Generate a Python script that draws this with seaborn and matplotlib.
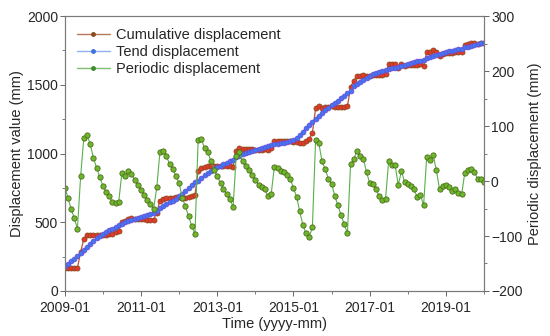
import numpy as np
import pandas as pd
import matplotlib
matplotlib.use("Agg")
import matplotlib.pyplot as plt
import matplotlib.dates as mdates
from matplotlib.ticker import MultipleLocator
from matplotlib.lines import Line2D
import seaborn as sns

# monthly series, 2009-01 .. 2020-01
start_month = "2009-01-01"
tick_years = [2009, 2011, 2013, 2015, 2017, 2019]

cumulative = [
    167, 167, 167, 167, 167,
    284, 378, 406, 409, 406, 407, 407, 406, 410, 415, 416, 426, 440,
    505, 509, 527, 530, 527, 525, 523, 521, 519, 520, 520, 571,
    658, 672, 675, 675, 680, 681, 684, 675, 680, 684, 690, 700,
    875, 898, 902, 913, 912, 910, 911, 909, 908, 909, 910, 905,
    1020, 1038, 1031, 1031, 1032, 1030, 1028, 1026, 1029, 1032, 1027, 1037,
    1091, 1094, 1092, 1094, 1094, 1094, 1087, 1086, 1080, 1080, 1090, 1108, 1149,
    1330, 1344, 1331, 1336, 1337, 1346, 1341, 1341, 1340, 1342, 1343,
    1486, 1528, 1563, 1567, 1575, 1566, 1561, 1573, 1573, 1569, 1569, 1577,
    1651, 1649, 1654, 1623, 1654, 1640, 1644, 1647, 1648, 1641, 1652, 1640,
    1736, 1738, 1755, 1736, 1709, 1722, 1730, 1732, 1730, 1738, 1736, 1739,
    1787, 1798, 1806, 1806, 1800, 1805, 1804,
]

trend = [
    180, 198, 218, 234, 254,
    275, 300, 322, 342, 364, 383, 400, 415, 430, 442, 454, 466, 478,
    490, 500, 509, 517, 525, 532, 539, 546, 554, 562, 571, 582,
    605, 617, 630, 644, 658, 672, 688, 706, 726, 748, 772, 796,
    800, 822, 842, 860, 876, 890, 902, 913, 923, 933, 943, 952,
    975, 985, 995, 1004, 1012, 1019, 1026, 1033, 1040, 1047, 1054, 1061,
    1066, 1070, 1074, 1078, 1083, 1090, 1100, 1115, 1135, 1160, 1185, 1210, 1233,
    1255, 1275, 1295, 1314, 1333, 1351, 1368, 1385, 1402, 1420, 1438,
    1455, 1488, 1508, 1522, 1535, 1550, 1565, 1578, 1588, 1596, 1604, 1610,
    1615, 1620, 1625, 1630, 1636, 1642, 1649, 1656, 1663, 1670, 1677, 1684,
    1692, 1700, 1708, 1716, 1724, 1731, 1737, 1743, 1748, 1753, 1758, 1763,
    1772, 1778, 1784, 1790, 1796, 1801, 1806,
]

periodic = [
    -13, -31, -51, -67, -87,
    9, 78, 84, 67, 42, 24, 7, -9, -20, -27, -38, -40, -38,
    15, 9, 18, 13, 2, -7, -16, -25, -35, -42, -51, -11,
    53, 55, 45, 31, 22, 9, -4, -31, -46, -64, -82, -96,
    75, 76, 60, 53, 36, 20, 9, -4, -15, -24, -33, -47,
    45, 53, 36, 27, 20, 11, 2, -7, -11, -15, -27, -24,
    25, 24, 18, 16, 11, 4, -13, -29, -55, -80, -95, -102, -84,
    75, 69, 36, 22, 4, -5, -27, -44, -62, -78, -95,
    31, 40, 55, 45, 40, 16, -4, -5, -15, -27, -35, -33,
    36, 29, 29, -7, 18, -2, -5, -9, -15, -29, -25, -44,
    44, 38, 47, 20, -15, -9, -7, -11, -18, -15, -22, -24,
    15, 20, 22, 16, 4, 4, -2,
]

dates = pd.date_range(start_month, periods=len(periodic), freq="MS")
df = pd.DataFrame({"date": dates, "cum": cumulative, "trend": trend, "per": periodic})

sns.set_style("ticks")
plt.rcParams["font.family"] = ["Liberation Sans", "DejaVu Sans"]

fig = plt.figure(figsize=(5.5, 3.36), dpi=100)
ax = fig.add_axes([0.118, 0.134, 0.762, 0.818])
ax2 = ax.twinx()

sns.lineplot(data=df, x="date", y="cum", ax=ax, color="#b4553a", lw=0.9,
             marker="o", markersize=3.6, markerfacecolor="#e8372c",
             markeredgecolor="#8a4a1c", markeredgewidth=0.6,
             label="Cumulative displacement", legend=False, zorder=2)
sns.lineplot(data=df, x="date", y="trend", ax=ax, color="#4a8cf0", lw=1.0,
             marker="o", markersize=3.4, markerfacecolor="#3f78f0",
             markeredgecolor="#6a4fd8", markeredgewidth=0.6,
             label="Tend displacement", legend=False, zorder=3)
sns.lineplot(data=df, x="date", y="per", ax=ax2, color="#58b04a", lw=0.8,
             marker="o", markersize=3.8, markerfacecolor="#6cb82c",
             markeredgecolor="#4f6a1a", markeredgewidth=0.6,
             label="Periodic displacement", legend=False)

ax.set_xlim(pd.Timestamp("2009-01-01"), pd.Timestamp("2020-01-01"))
ax.set_ylim(0, 2000)
ax2.set_ylim(-200, 300)

ax.set_xticks([pd.Timestamp(f"{y}-01-01") for y in tick_years])
ax.xaxis.set_minor_locator(mdates.YearLocator(1))
ax.xaxis.set_major_formatter(mdates.DateFormatter("%Y-%m"))
ax.yaxis.set_major_locator(MultipleLocator(500))
ax.yaxis.set_minor_locator(MultipleLocator(250))
ax2.yaxis.set_major_locator(MultipleLocator(100))
ax2.yaxis.set_minor_locator(MultipleLocator(50))

for a in (ax, ax2):
    a.tick_params(which="major", length=3.5, width=0.7, color="#666666",
                  labelsize=10, pad=1.5)
    a.tick_params(which="minor", length=2, width=0.6, color="#666666")
    for s in a.spines.values():
        s.set_visible(True)
        s.set_color("#7a7a7a")
        s.set_linewidth(0.8)
ax.tick_params(axis="x", which="major", pad=4)

ax.set_xlabel("Time (yyyy-mm)", fontsize=10.5, labelpad=1)
ax.set_ylabel("Displacement value (mm)", fontsize=10.5, labelpad=2)
ax2.set_ylabel("Periodic displacement (mm)", fontsize=10.5, labelpad=4)

# legend handles in muted colours
handles = [
    Line2D([], [], color="#b97a5a", lw=1, marker="o", markersize=2.5,
           markerfacecolor="#8a4a1c", markeredgecolor="#8a4a1c"),
    Line2D([], [], color="#8fb0f0", lw=1, marker="o", markersize=2.5,
           markerfacecolor="#3f6fe0", markeredgecolor="#3f6fe0"),
    Line2D([], [], color="#7cc070", lw=1, marker="o", markersize=2.5,
           markerfacecolor="#3f8a2a", markeredgecolor="#3f8a2a"),
]
labels = ["Cumulative displacement", "Tend displacement", "Periodic displacement"]
ax2.legend(handles, labels, loc="upper left", bbox_to_anchor=(0.0, 1.0),
           frameon=False, fontsize=10.5, handlelength=2.3, handletextpad=0.4,
           labelspacing=0.2, borderaxespad=0.4)

fig.savefig("out.png", dpi=100)
